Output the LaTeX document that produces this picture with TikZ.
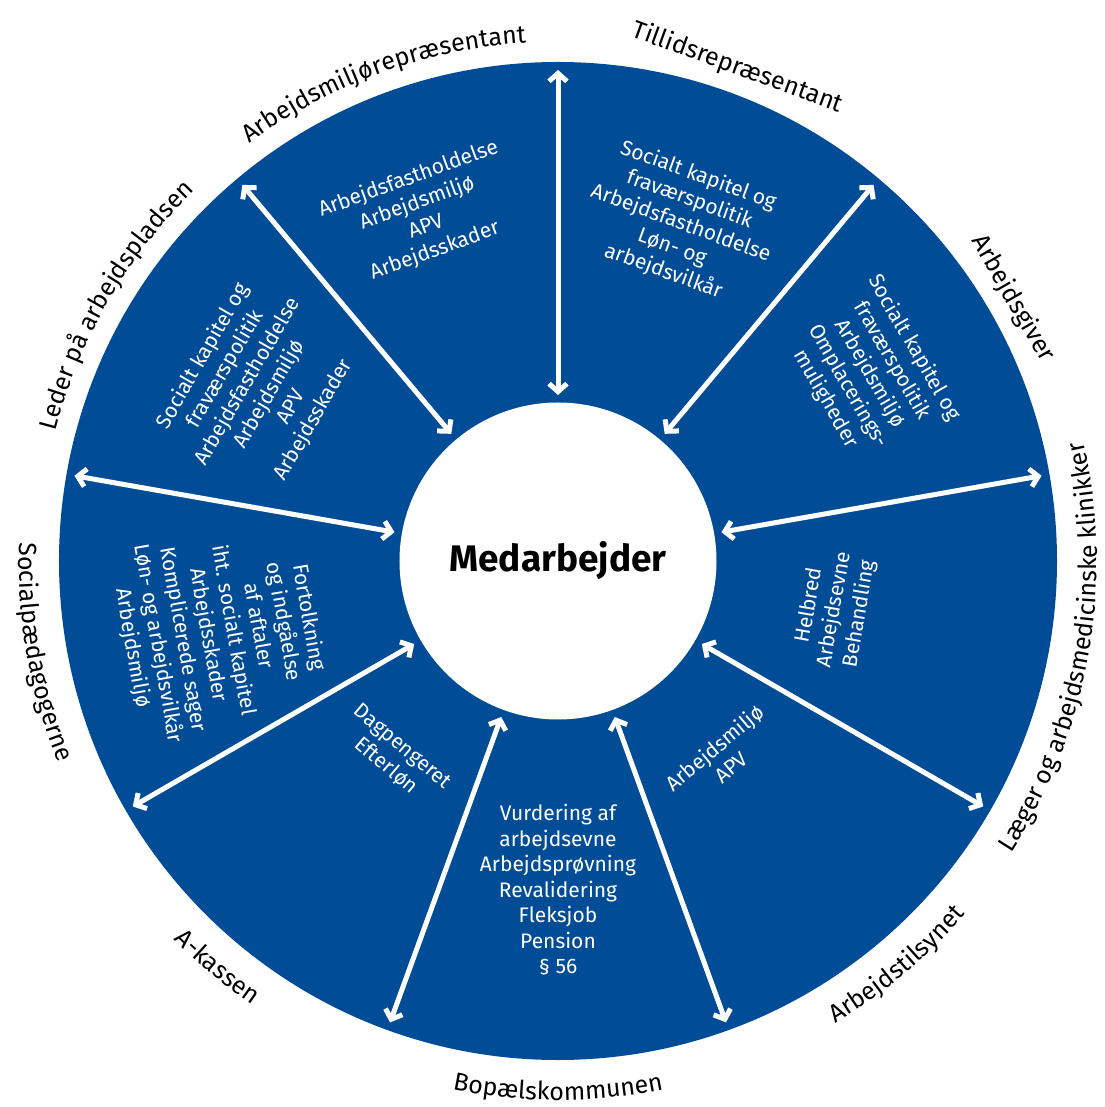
\documentclass[tikz,border=0pt]{standalone}
\usepackage{fontspec}
\setmainfont{Fira Sans}
\usetikzlibrary{arrows.meta,decorations.text}
\definecolor{wheelblue}{RGB}{0,76,151}
\newcommand\lblfont{\fontsize{25}{30}\selectfont}
\begin{document}
\begin{tikzpicture}[x=1pt,y=1pt,
  dbl/.style={draw=white, line width=5pt,
    {Straight Barb[length=8pt,width=18pt]}-{Straight Barb[length=8pt,width=18pt]}},
  innertext/.style={text=white, font=\fontsize{21}{25.5}\selectfont, align=center, inner sep=0pt},
  outertext/.style={text=black, font=\lblfont, inner sep=0pt, anchor=base},
  lblpath/.style={decorate, decoration={text along path, text align=center, text={|\lblfont|#1}}}
]
\useasboundingbox (-558,-546) rectangle (546,561);
\fill[wheelblue] (0,0) circle (499);
\node[circle, fill=white, minimum size=317pt, inner sep=0pt,
      font=\bfseries\fontsize{37}{42}\selectfont] (center) at (0,0) {Medarbejder};

\foreach \a in {90,50,10,-30,-70,-110,-150,170,130} {
  \coordinate (in\a) at (\a:166);
  \coordinate (out\a) at (\a:491);
  \draw[dbl] (in\a) -- (out\a);
}

% outer labels (upper half)
\node[outertext, rotate=-20] (l70) at (70:518) {Tillidsrepræsentant};
\node[outertext, rotate=-60] (l30) at (30:518) {Arbejdsgiver};
\path[lblpath={Arbejdsmiljørepræsentant}] (170:519) arc[start angle=170, end angle=50, radius=519];
\path[lblpath={Leder på arbejdspladsen}] (210:519) arc[start angle=210, end angle=90, radius=519];
% outer labels (lower half)
\path[lblpath={Socialpædagogerne}] (130:539) arc[start angle=130, end angle=250, radius=539];
\path[lblpath={A-kassen}] (170:539) arc[start angle=170, end angle=290, radius=539];
\path[lblpath={Bopælskommunen}] (210:539) arc[start angle=210, end angle=330, radius=539];
\path[lblpath={Arbejdstilsynet}] (250:539) arc[start angle=250, end angle=370, radius=539];
\path[lblpath={Læger og arbejdsmedicinske klinikker}] (270:539) arc[start angle=270, end angle=430, radius=539];

% inner texts
\node[innertext, rotate=-20] (t70) at (70:359)
  {Socialt kapitel og\\fraværspolitik\\Arbejdsfastholdelse\\Løn- og\\arbejdsvilkår};
\node[innertext, rotate=20] (t110) at (111.5:372)
  {Arbejdsfastholdelse\\Arbejdsmiljø\\APV\\Arbejdsskader};
\node[innertext, rotate=60] (t150) at (150:346)
  {Socialt kapitel og\\fraværspolitik\\Arbejdsfastholdelse\\Arbejdsmiljø\\APV\\Arbejdsskader};
\node[innertext, rotate=-60] (t30) at (31:364)
  {Socialt kapitel og\\fraværspolitik\\Arbejdsmiljø\\Omplacerings-\\muligheder};
\node[innertext, rotate=80] (t350) at (-10:281)
  {Helbred\\Arbejdsevne\\Behandling};
\node[innertext, rotate=40] (t310) at (-50:256)
  {Arbejdsmiljø\\APV};
\node[innertext] (t270) at (270:329)
  {Vurdering af\\arbejdsevne\\Arbejdsprøvning\\Revalidering\\Fleksjob\\Pension\\§ 56};
\node[innertext, rotate=-40] (t230) at (230:255)
  {Dagpengeret\\Efterløn};
\node[innertext, rotate=-80] (t190) at (192:345)
  {Fortolkning\\og indgåelse\\af aftaler\\iht. socialt kapitel\\Arbejdsskader\\Komplicerede sager\\Løn- og arbejdsvilkår\\Arbejdsmiljø};
\end{tikzpicture}
\end{document}
